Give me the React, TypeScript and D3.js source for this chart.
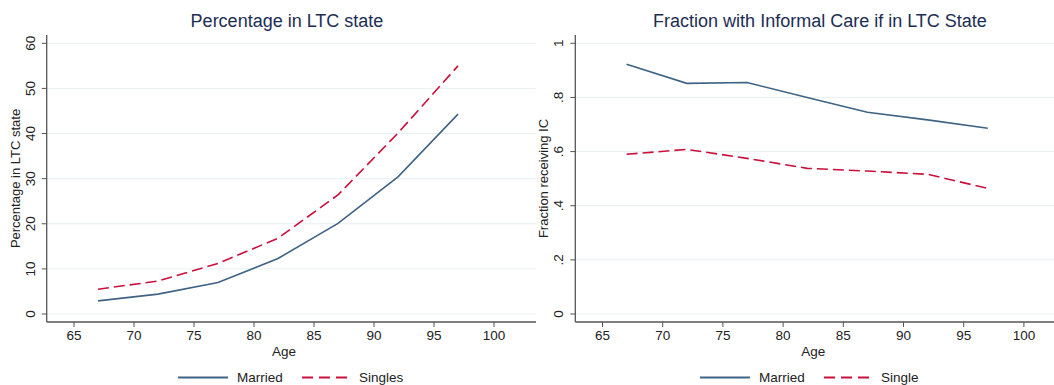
import React from "react";
import * as d3 from "d3";

const ages = [67, 72, 77, 82, 87, 92, 97];
const ltcMarried = [2.9, 4.4, 7.0, 12.3, 20.1, 30.4, 44.3];
const ltcSingles = [5.5, 7.3, 11.2, 16.8, 26.4, 40.1, 55.0];
const icMarried = [0.923, 0.852, 0.855, 0.80, 0.745, 0.717, 0.686];
const icSingle = [0.59, 0.608, 0.575, 0.538, 0.528, 0.516, 0.464];
const xTicks = [65, 70, 75, 80, 85, 90, 95, 100];
const ltcTicks = [0, 10, 20, 30, 40, 50, 60];
const icTicks = [0, 0.2, 0.4, 0.6, 0.8, 1];

const W = 1054;
const H = 385;
const COL_M = "#3e6383";
const COL_S = "#c8103a";
const TITLE_COL = "#1c2d52";
const GRID = "#e8f0f1";
const FONT = "'Liberation Sans', Arial, Helvetica, sans-serif";

type PanelProps = {
  title: string;
  yTitle: string;
  axisX: number;
  rightX: number;
  titleX: number;
  xAt65: number;
  pxPer5: number;
  yMax: number;
  yTicks: number[];
  yFmt: (v: number) => string;
  married: number[];
  single: number[];
  legendX: number;
  singleLabel: string;
  yTitleX: number;
};

function Panel(p: PanelProps) {
  const top = 35;
  const bottom = 322;
  const y0 = 314;
  const yTop = 43.3;
  const x = d3
    .scaleLinear()
    .domain([65, 100])
    .range([p.xAt65, p.xAt65 + p.pxPer5 * 7]);
  const y = d3.scaleLinear().domain([0, p.yMax]).range([y0, yTop]);
  const line = d3
    .line<number>()
    .x((_, i) => x(ages[i]))
    .y((d) => y(d));
  const lx = p.legendX;
  return (
    <g fontFamily={FONT}>
      <text x={p.titleX} y={27} textAnchor="middle" fontSize={18} fill={TITLE_COL}>
        {p.title}
      </text>
      {p.yTicks.map((t) => (
        <line key={"g" + t} x1={p.axisX} x2={p.rightX} y1={y(t)} y2={y(t)} stroke={GRID} strokeWidth={1} />
      ))}
      <line x1={p.axisX} x2={p.axisX} y1={top} y2={bottom} stroke="#555" strokeWidth={1.3} />
      <line x1={p.axisX} x2={p.rightX} y1={bottom} y2={bottom} stroke="#555" strokeWidth={1.3} />
      {p.yTicks.map((t) => (
        <g key={"yt" + t}>
          <line x1={p.axisX - 5} x2={p.axisX} y1={y(t)} y2={y(t)} stroke="#555" strokeWidth={1} />
          <text
            transform={`translate(${p.axisX - 12},${y(t)}) rotate(-90)`}
            textAnchor="middle"
            fontSize={13.5}
            fill="#222"
          >
            {p.yFmt(t)}
          </text>
        </g>
      ))}
      {xTicks.map((t) => (
        <g key={"xt" + t}>
          <line x1={x(t)} x2={x(t)} y1={bottom} y2={bottom + 5} stroke="#555" strokeWidth={1} />
          <text x={x(t)} y={340} textAnchor="middle" fontSize={13.5} fill="#222">
            {t}
          </text>
        </g>
      ))}
      <text x={x(82.5)} y={356} textAnchor="middle" fontSize={13.5} fill="#222">
        Age
      </text>
      <text
        transform={`translate(${p.yTitleX},${(top + bottom) / 2}) rotate(-90)`}
        textAnchor="middle"
        fontSize={13}
        fill="#222"
      >
        {p.yTitle}
      </text>
      <path d={line(p.married) || ""} fill="none" stroke={COL_M} strokeWidth={1.6} />
      <path d={line(p.single) || ""} fill="none" stroke={COL_S} strokeWidth={1.6} strokeDasharray="11,5" />
      <line x1={lx} x2={lx + 50} y1={377.5} y2={377.5} stroke={COL_M} strokeWidth={1.8} />
      <text x={lx + 59} y={382} fontSize={13.5} fill="#222">
        Married
      </text>
      <line x1={lx + 124} x2={lx + 174} y1={377.5} y2={377.5} stroke={COL_S} strokeWidth={1.8} strokeDasharray="11,6" />
      <text x={lx + 181} y={382} fontSize={13.5} fill="#222">
        {p.singleLabel}
      </text>
    </g>
  );
}

export default function App() {
  return (
    <svg
      width={W}
      height={H}
      style={{ position: "absolute", left: 0, top: 0, background: "#fff" }}
    >
      <rect x={0} y={0} width={W} height={H} fill="#fff" />
      <Panel
        title="Percentage in LTC state"
        yTitle="Percentage in LTC state"
        axisX={46.7}
        rightX={536}
        titleX={287}
        xAt65={74}
        pxPer5={60}
        yMax={60}
        yTicks={ltcTicks}
        yFmt={(v) => String(v)}
        married={ltcMarried}
        single={ltcSingles}
        legendX={178}
        singleLabel="Singles"
        yTitleX={20}
      />
      <Panel
        title="Fraction with Informal Care if in LTC State"
        yTitle="Fraction receiving IC"
        axisX={575.3}
        rightX={1054}
        titleX={820}
        xAt65={602.5}
        pxPer5={60.2}
        yMax={1}
        yTicks={icTicks}
        yFmt={(v) => (v === 0 ? "0" : v === 1 ? "1" : d3.format(".1f")(v).replace(/^0/, ""))}
        married={icMarried}
        single={icSingle}
        legendX={700}
        singleLabel="Single"
        yTitleX={548}
      />
    </svg>
  );
}
